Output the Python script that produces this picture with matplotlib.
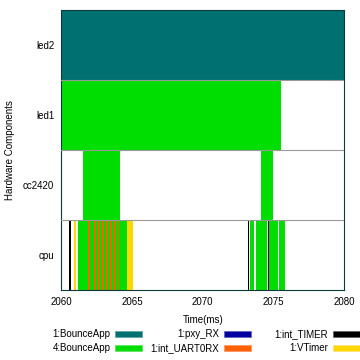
import matplotlib.pyplot as plt
from matplotlib.patches import Patch

plt.rcParams['font.family'] = ['Liberation Sans', 'DejaVu Sans']

rows = ['cpu', 'cc2420', 'led1', 'led2']

# (start, duration) in ms
led2_bounce1 = [(2060.0, 20.0)]
led1_bounce4 = [(2060.0, 15.57)]
cc2420_bounce4 = [(2061.54, 2.65), (2074.15, 0.80)]
cpu_bounce4 = [(2061.16, 3.51), (2073.32, 0.33), (2073.74, 0.81),
               (2074.72, 0.58), (2075.40, 0.43)]
cpu_uart = [(2061.90, 0.14), (2062.30, 0.14), (2062.58, 0.14), (2062.86, 0.14),
            (2063.15, 0.14), (2063.43, 0.14), (2063.70, 0.14), (2063.98, 0.14)]
cpu_vtimer = [(2060.92, 0.13), (2064.67, 0.42)]
cpu_timer = [(2060.57, 0.12), (2073.22, 0.05), (2073.67, 0.05), (2074.65, 0.07)]

c_teal = '#007070'
c_green = '#00dd00'
c_navy = '#0000a0'
c_orange = '#ff6000'
c_black = '#000000'
c_yellow = '#ffd700'

fig = plt.figure(figsize=(3.6, 3.6), dpi=100)
ax = fig.add_axes([0.170, 0.195, 0.786, 0.778])

ax.broken_barh(led2_bounce1, (3, 1), facecolors=c_teal, linewidth=0)
ax.broken_barh(led1_bounce4, (2, 1), facecolors=c_green, linewidth=0)
ax.broken_barh(cc2420_bounce4, (1, 1), facecolors=c_green, linewidth=0)
ax.broken_barh(cpu_bounce4, (0, 1), facecolors=c_green, linewidth=0)
ax.broken_barh(cpu_uart, (0, 1), facecolors=c_orange, linewidth=0)
ax.broken_barh(cpu_vtimer, (0, 1), facecolors=c_yellow, linewidth=0)
ax.broken_barh(cpu_timer, (0, 1), facecolors=c_black, linewidth=0)

for y in [1, 2, 3]:
    ax.axhline(y, color='#999999', lw=0.8, zorder=5)

ax.set_xlim(2060, 2080)
ax.set_ylim(0, 4)
ax.set_xticks([2060, 2065, 2070, 2075, 2080])
ax.set_yticks([0.5, 1.5, 2.5, 3.5])
ax.set_yticklabels(rows)
ax.tick_params(length=0, labelsize=7, pad=5)
for s in ax.spines.values():
    s.set_color('#0a3a3a')
    s.set_linewidth(0.8)

ax.set_xlabel('Time(ms)', fontsize=7, labelpad=6)
ax.set_ylabel('Hardware Components', fontsize=7, labelpad=6)

handles = [Patch(facecolor=c_teal, edgecolor='#5aa0a0', lw=0.5),
           Patch(facecolor=c_green, edgecolor='#60e060', lw=0.5),
           Patch(facecolor=c_navy, edgecolor='#6060c0', lw=0.5),
           Patch(facecolor=c_orange, edgecolor='#ff9060', lw=0.5),
           Patch(facecolor=c_black, edgecolor='#606060', lw=0.5),
           Patch(facecolor=c_yellow, edgecolor='#ffe070', lw=0.5)]
labels = ['1:BounceApp', '4:BounceApp', '1:pxy_RX', '1:int_UART0RX',
          '1:int_TIMER', '1:VTimer']

# gnuplot-style key: three fixed-width columns, text right-aligned to swatch
col_right = [142 / 360, 251 / 360, 360 / 360]
for i, xr in enumerate(col_right):
    fig.legend(handles[2 * i:2 * i + 2], labels[2 * i:2 * i + 2],
               markerfirst=False, frameon=False, fontsize=7,
               loc='upper right', bbox_to_anchor=(xr, 0.085),
               borderaxespad=0, borderpad=0, handlelength=2.8,
               handleheight=0.6, handletextpad=0.45, labelspacing=0.4)

fig.savefig('out.png', dpi=100)
